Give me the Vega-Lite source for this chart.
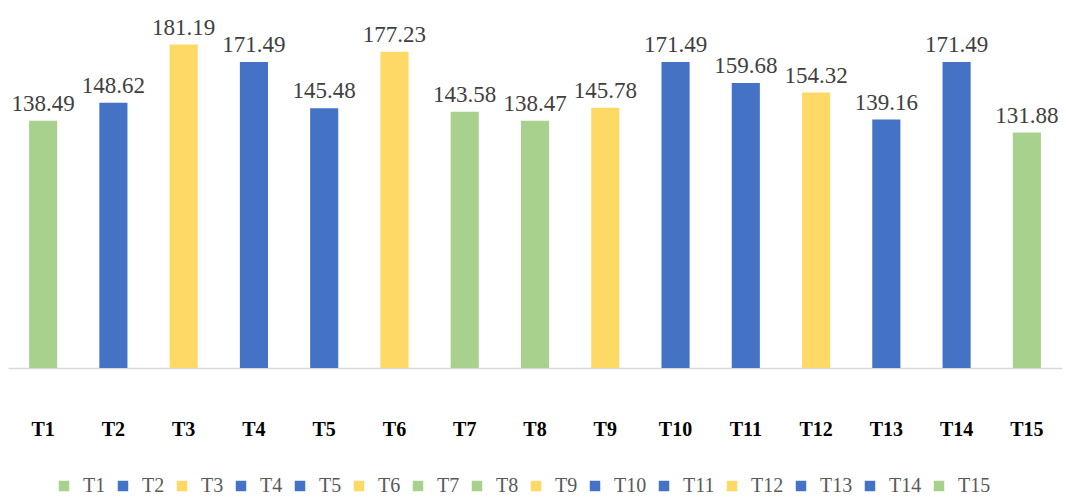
{
  "$schema": "https://vega.github.io/schema/vega-lite/v6.json",
  "autosize": {"type": "none"},
  "padding": {"left": 8, "top": 11, "right": 4, "bottom": 129},
  "width": 1054,
  "height": 357,
  "background": "white",
  "config": {"view": {"stroke": null}, "font": "Liberation Serif"},
  "data": {"values": [
    {"t": "T1", "v": 138.49},
    {"t": "T2", "v": 148.62},
    {"t": "T3", "v": 181.19},
    {"t": "T4", "v": 171.49},
    {"t": "T5", "v": 145.48},
    {"t": "T6", "v": 177.23},
    {"t": "T7", "v": 143.58},
    {"t": "T8", "v": 138.47},
    {"t": "T9", "v": 145.78},
    {"t": "T10", "v": 171.49},
    {"t": "T11", "v": 159.68},
    {"t": "T12", "v": 154.32},
    {"t": "T13", "v": 139.16},
    {"t": "T14", "v": 171.49},
    {"t": "T15", "v": 131.88}
  ]},
  "encoding": {
    "x": {"field": "t", "type": "nominal", "sort": null,
      "scale": {"paddingInner": 0.6, "paddingOuter": 0.3},
      "axis": {"title": null, "labelAngle": 0, "ticks": false, "labelPadding": 51,
        "labelFont": "Liberation Serif", "labelFontSize": 20, "labelFontWeight": "bold",
        "labelColor": "#000000", "domainColor": "#D9D9D9", "domainWidth": 1.5}},
    "y": {"field": "v", "type": "quantitative",
      "scale": {"domain": [0, 200], "nice": false},
      "axis": null}
  },
  "layer": [
    {"mark": {"type": "bar"},
     "encoding": {
       "color": {"field": "t", "type": "nominal", "sort": null,
         "scale": {"domain": ["T1","T2","T3","T4","T5","T6","T7","T8","T9","T10","T11","T12","T13","T14","T15"],
           "range": ["#A9D18E","#4472C4","#FFD966","#4472C4","#4472C4","#FFD966","#A9D18E","#A9D18E","#FFD966","#4472C4","#4472C4","#FFD966","#4472C4","#4472C4","#A9D18E"]},
         "legend": {"title": null, "orient": "none", "legendX": 46, "legendY": 465,
           "direction": "horizontal", "columns": 15, "symbolType": "square", "symbolSize": 110,
           "symbolStrokeWidth": 0, "labelFont": "Liberation Serif", "labelFontSize": 20,
           "labelColor": "#595959", "labelOffset": 9, "columnPadding": 7}}
     }},
    {"mark": {"type": "text", "baseline": "bottom", "dy": -5, "fontSize": 23,
       "font": "Liberation Serif", "color": "#404040"},
     "encoding": {"text": {"field": "v", "type": "quantitative", "format": ".2f"}}}
  ]
}
